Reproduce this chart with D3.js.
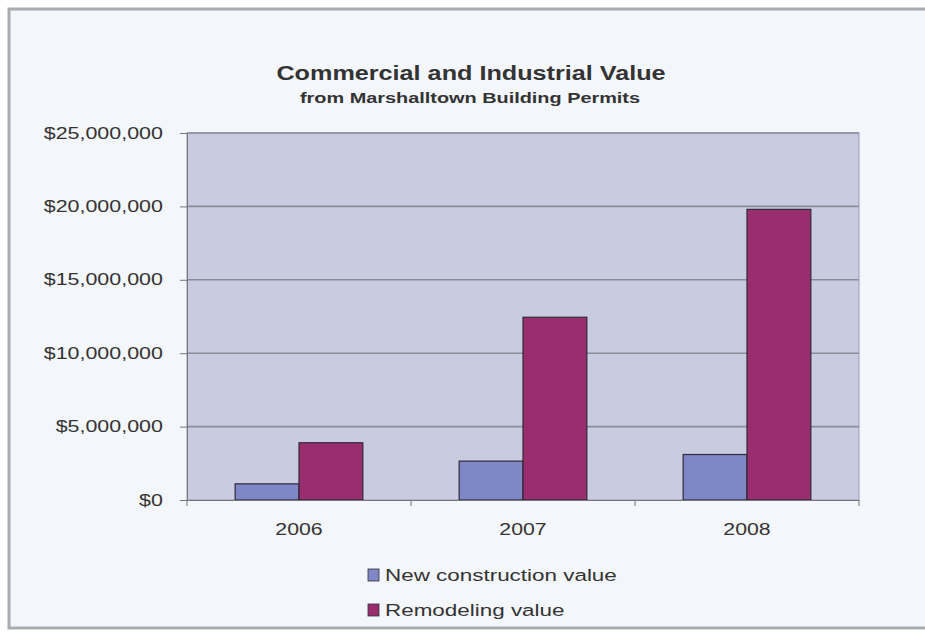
<!DOCTYPE html>
<html>
<head>
<meta charset="utf-8">
<script src="https://cdn.jsdelivr.net/npm/d3@7"></script>
<style>
  body { margin: 0; background: #fff; }
  svg { display: block; font-family: "Liberation Sans", Arial, sans-serif; }
</style>
</head>
<body>
<svg></svg>
<script>
const years = ['2006', '2007', '2008'];
const seriesNames = ['New construction value', 'Remodeling value'];
const newValues = [1100000, 2650000, 3100000];
const remodelValues = [3900000, 12450000, 19800000];
const yTicks = [0, 5000000, 10000000, 15000000, 20000000, 25000000];
const colors = ['#8087c6', '#992e6e'];

const size = {w: 925, h: 633};
const plot = {l: 187, r: 859, t: 133, b: 500};
const svg = d3.select('svg').attr('width', size.w).attr('height', size.h);

// the source picture is stretched sideways, so text gets a horizontal scale
function wideText(parent, x, y, sx, txt) {
    return parent.append('text')
        .attr('transform', `translate(${x},${y}) scale(${sx},1)`)
        .attr('fill', '#333')
        .text(txt);
}

// outer frame
svg.append('rect')
    .attr('x', 9).attr('y', 9)
    .attr('width', size.w).attr('height', 619)
    .attr('fill', '#f3f6fa')
    .attr('stroke', '#a9abae').attr('stroke-width', 3);

// title
wideText(svg, 471, 80, 1.2, 'Commercial and Industrial Value')
    .attr('text-anchor', 'middle')
    .attr('font-size', 21).attr('font-weight', 'bold');
wideText(svg, 470, 103, 1.42, 'from Marshalltown Building Permits')
    .attr('text-anchor', 'middle')
    .attr('font-size', 14).attr('font-weight', 'bold');

const x0 = d3.scaleBand().domain(years).range([plot.l, plot.r]).paddingInner(0).paddingOuter(0);
const x1 = d3.scaleBand().domain(seriesNames).range([0, x0.bandwidth() * 0.57]);
const y = d3.scaleLinear().domain([0, 25000000]).range([plot.b, plot.t]);

// plot area
svg.append('rect')
    .attr('x', plot.l).attr('y', plot.t)
    .attr('width', plot.r - plot.l).attr('height', plot.b - plot.t)
    .attr('fill', '#c9cce0')
    .attr('stroke', '#9a9cac').attr('stroke-width', 1);

// gridlines
svg.append('g').selectAll('line')
    .data(yTicks.slice(1))
    .join('line')
    .attr('x1', plot.l).attr('x2', plot.r)
    .attr('y1', d => y(d)).attr('y2', d => y(d))
    .attr('stroke', '#8a8c98').attr('stroke-width', 1.6);

// bars
const offset = (x0.bandwidth() - x1.range()[1]) / 2;
const groups = svg.append('g').selectAll('g')
    .data(years.map((yr, i) => ({yr, vals: [newValues[i], remodelValues[i]]})))
    .join('g')
    .attr('transform', d => `translate(${x0(d.yr) + offset},0)`);

groups.selectAll('rect')
    .data(d => d.vals.map((v, j) => ({name: seriesNames[j], v, j})))
    .join('rect')
    .attr('x', d => x1(d.name))
    .attr('y', d => y(d.v))
    .attr('width', x1.bandwidth())
    .attr('height', d => y(0) - y(d.v))
    .attr('fill', d => colors[d.j])
    .attr('stroke', '#2e2a3a').attr('stroke-width', 1.2);

// y axis
const yAxis = svg.append('g')
    .attr('transform', `translate(${plot.l},0)`)
    .call(d3.axisLeft(y).tickValues(yTicks).tickSize(7).tickPadding(11)
        .tickFormat(d => '$' + d3.format(',')(d)));
yAxis.select('.domain').attr('stroke', '#777');
yAxis.selectAll('.tick line').attr('stroke', '#777');
yAxis.selectAll('text').attr('font-size', 16).attr('fill', '#333')
    .attr('transform', 'scale(1.34,1)')
    .attr('font-family', '"Liberation Sans", Arial, sans-serif');

// x axis
const xAxis = svg.append('g')
    .attr('transform', `translate(0,${plot.b})`)
    .call(d3.axisBottom(x0).tickSize(0).tickPadding(24));
xAxis.select('.domain').attr('stroke', '#777');
xAxis.selectAll('text').attr('font-size', 16).attr('fill', '#333')
    .attr('transform', 'scale(1.33,1)')
    .attr('font-family', '"Liberation Sans", Arial, sans-serif');
svg.append('g').selectAll('line')
    .data(years.concat(['end']))
    .join('line')
    .attr('x1', (d, i) => plot.l + i * x0.bandwidth())
    .attr('x2', (d, i) => plot.l + i * x0.bandwidth())
    .attr('y1', plot.b).attr('y2', plot.b + 6)
    .attr('stroke', '#777');

// legend
const legend = svg.append('g').attr('transform', 'translate(368,569)');
seriesNames.forEach((name, i) => {
    legend.append('rect')
        .attr('x', 0).attr('y', i * 35)
        .attr('width', 11).attr('height', 12)
        .attr('fill', colors[i])
        .attr('stroke', '#333').attr('stroke-width', 0.8);
    wideText(legend, 17, i * 35 + 12, 1.32, name)
        .attr('font-size', 17);
});
</script>
</body>
</html>
